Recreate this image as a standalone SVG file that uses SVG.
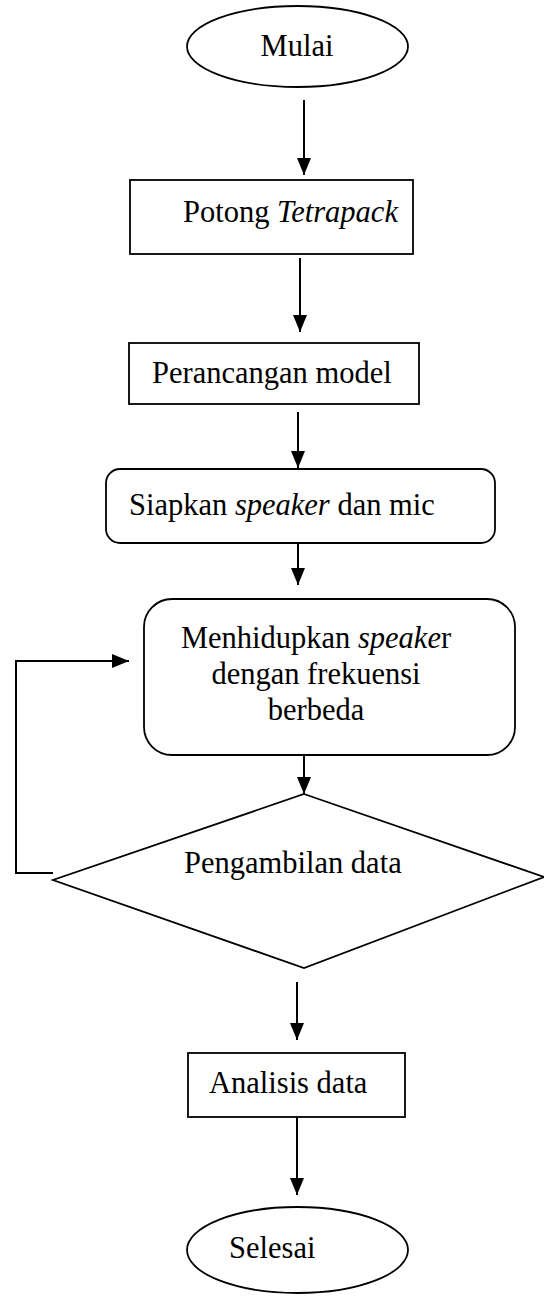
<svg xmlns="http://www.w3.org/2000/svg" width="544" height="1297" viewBox="0 0 544 1297">
<style>
.s{fill:#fff;stroke:#000;stroke-width:1.8}
.t{font-family:"Liberation Serif","Times New Roman",serif;font-size:30.5px;fill:#000}
.c{stroke:#000;stroke-width:2;fill:none}
</style>
<defs>
<marker id="ah" markerUnits="userSpaceOnUse" markerWidth="17" markerHeight="14" refX="17" refY="7" orient="auto" viewBox="0 0 17 14">
<path d="M0,0 L17,7 L0,14 z" fill="#000"/>
</marker>
</defs>
<g id="connectors">
<line class="c" x1="304" y1="100" x2="304" y2="175" marker-end="url(#ah)"/>
<line class="c" x1="300" y1="258" x2="300" y2="332" marker-end="url(#ah)"/>
<line class="c" x1="298" y1="412" x2="298" y2="468" marker-end="url(#ah)"/>
<line class="c" x1="298" y1="543" x2="298" y2="585" marker-end="url(#ah)"/>
<line class="c" x1="304" y1="755" x2="304" y2="794" marker-end="url(#ah)"/>
<polyline class="c" points="53,873 16,873 16,661 129,661" marker-end="url(#ah)"/>
<line class="c" x1="297" y1="982" x2="297" y2="1040" marker-end="url(#ah)"/>
<line class="c" x1="297" y1="1117" x2="297" y2="1195" marker-end="url(#ah)"/>
</g>
<g id="mulai">
<ellipse class="s" cx="297.5" cy="46.5" rx="110.5" ry="40.5"/>
<text class="t" x="297" y="56" text-anchor="middle">Mulai</text>
</g>
<g id="potong">
<rect class="s" x="130" y="180" width="283" height="74"/>
<text class="t" x="183" y="222">Potong <tspan font-style="italic">Tetrapack</tspan></text>
</g>
<g id="perancangan">
<rect class="s" x="129" y="343" width="290" height="61"/>
<text class="t" x="152" y="383">Perancangan model</text>
</g>
<g id="siapkan">
<rect class="s" x="106" y="469" width="389" height="74" rx="14"/>
<text class="t" x="129" y="515">Siapkan <tspan font-style="italic">speaker</tspan> dan mic</text>
</g>
<g id="menhidupkan">
<rect class="s" x="144" y="599" width="371" height="156" rx="28"/>
<text class="t" x="316" y="648" text-anchor="middle">Menhidupkan <tspan font-style="italic">speake</tspan>r</text>
<text class="t" x="316" y="684" text-anchor="middle">dengan frekuensi</text>
<text class="t" x="316" y="720" text-anchor="middle">berbeda</text>
</g>
<g id="pengambilan">
<polygon class="s" points="304,794 544,877 304,968 53,880"/>
<text class="t" x="184" y="873">Pengambilan data</text>
</g>
<g id="analisis">
<rect class="s" x="188" y="1053" width="217" height="64"/>
<text class="t" x="209" y="1093">Analisis data</text>
</g>
<g id="selesai">
<ellipse class="s" cx="297.5" cy="1250" rx="110.5" ry="43"/>
<text class="t" x="229" y="1258">Selesai</text>
</g>
</svg>
